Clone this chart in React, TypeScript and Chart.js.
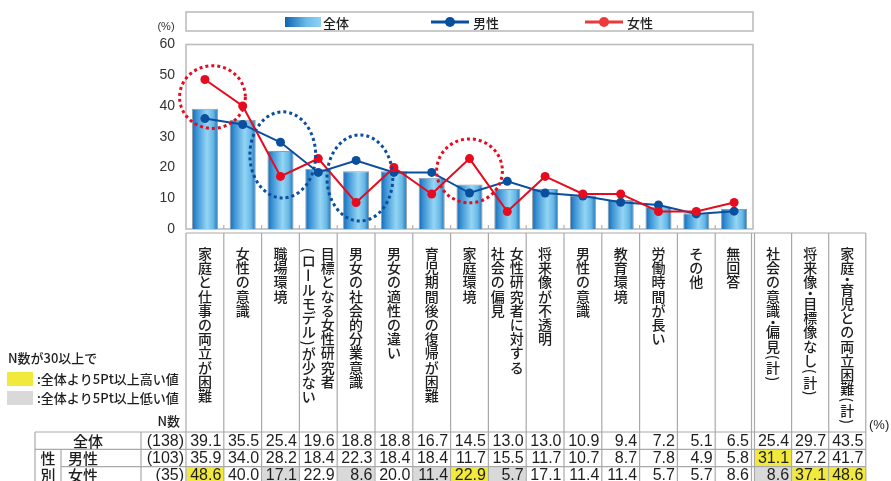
import { useEffect, useRef } from 'react';
import { Chart, registerables } from 'chart.js';

Chart.register(...registerables);

const JP = '"Noto Sans CJK JP", "Noto Sans", sans-serif';
const NUM = '"Liberation Sans", Arial, sans-serif';

// ---- data ----
const CATEGORIES: (string | string[])[] = [
  '家庭と仕事の両立が困難',
  '女性の意識',
  '職場環境',
  ['目標となる女性研究者', '（ロールモデル）が少ない'],
  '男女の社会的分業意識',
  '男女の適性の違い',
  '育児期間後の復帰が困難',
  '家庭環境',
  ['女性研究者に対する', '社会の偏見'],
  '将来像が不透明',
  '男性の意識',
  '教育環境',
  '労働時間が長い',
  'その他',
  '無回答',
];
const EXTRA_CATEGORIES = ['社会の意識・偏見（計）', '将来像・目標像なし（計）', '家庭・育児との両立困難（計）'];

const OVERALL = [39.1, 35.5, 25.4, 19.6, 18.8, 18.8, 16.7, 14.5, 13.0, 13.0, 10.9, 9.4, 7.2, 5.1, 6.5];
const MALE = [35.9, 34.0, 28.2, 18.4, 22.3, 18.4, 18.4, 11.7, 15.5, 11.7, 10.7, 8.7, 7.8, 4.9, 5.8];
const FEMALE = [48.6, 40.0, 17.1, 22.9, 8.6, 20.0, 11.4, 22.9, 5.7, 17.1, 11.4, 11.4, 5.7, 5.7, 8.6];
const OVERALL_EXTRA = [25.4, 29.7, 43.5];
const MALE_EXTRA = [31.1, 27.2, 41.7];
const FEMALE_EXTRA = [8.6, 37.1, 48.6];

const ROW_LABELS = ['全体', '男性', '女性'];
const N_COUNTS = [138, 103, 35];
const SERIES_LABELS = ['全体', '男性', '女性'];

const Y_MIN = 0;
const Y_MAX = 60;
const Y_STEP = 10;

// dotted highlight ellipses (data space: category index, value; radii in categories / value units)
const CIRCLE_SERIES = ['女性', '男性', '男性', '女性'];
const CIRCLE_INDEX = [0.2, 2.06, 4.1, 7.0];
const CIRCLE_VALUE = [42.9, 24.1, 16.6, 18.9];
const CIRCLE_RX = [0.87, 0.87, 0.87, 0.87];
const CIRCLE_RY = [10.2, 14, 14, 10.4];

const NOTE_TITLE = 'N数が30以上で';
const NOTE_HIGH = ':全体より5Pt以上高い値';
const NOTE_LOW = ':全体より5Pt以上低い値';

// ---- styles ----
const MALE_COLOR = '#0a4f9e';
const FEMALE_COLOR = '#e60b1f';
const LINE_GRAY = '#a9a9a9';
const YELLOW = '#f1ea3c';
const GRAY_FILL = '#d9d9d9';
const TEXT = '#1e1e1e';

function barGradient(ctx: CanvasRenderingContext2D, x0: number, x1: number) {
  const g = ctx.createLinearGradient(x0, 0, x1, 0);
  g.addColorStop(0, '#1667b1');
  g.addColorStop(0.18, '#3a92d4');
  g.addColorStop(0.58, '#94d5f4');
  g.addColorStop(0.82, '#66b7e6');
  g.addColorStop(1, '#1c70b8');
  return g;
}

function drawVertical(ctx: CanvasRenderingContext2D, text: string, cx: number, top: number) {
  let y = top;
  for (const ch0 of text) {
    const half = '（）()・'.includes(ch0);
    const adv = half ? 7.5 : 14.2;
    let ch = ch0;
    if (ch === '（') ch = '(';
    if (ch === '）') ch = ')';
    const cy = y + adv / 2;
    ctx.save();
    ctx.translate(cx, cy);
    if ('()ー'.includes(ch)) ctx.rotate(Math.PI / 2);
    ctx.fillText(ch, 0, 0);
    ctx.restore();
    y += adv;
  }
}

const decorPlugin = {
  id: 'decor',
  beforeDatasetsDraw(chart: any) {
    const { ctx, chartArea } = chart;
    const { left, right, top, bottom } = chartArea;
    const colW = (right - left) / CATEGORIES.length;
    ctx.save();
    ctx.strokeStyle = '#bdbdbd';
    ctx.lineWidth = 1.6;
    ctx.strokeRect(left, top, right - left, bottom - top);
    ctx.strokeStyle = '#b0b0b0';
    ctx.lineWidth = 1.2;
    for (let k = 1; k < CATEGORIES.length; k++) {
      const x = left + k * colW;
      ctx.beginPath();
      ctx.moveTo(x, bottom - 4);
      ctx.lineTo(x, bottom);
      ctx.stroke();
    }
    ctx.restore();
  },
  afterDatasetsDraw(chart: any) {
    const { ctx } = chart;
    const xs = chart.scales.x;
    const ys = chart.scales.y;
    const colW = xs.width / CATEGORIES.length;
    const pxPerUnit = (ys.bottom - ys.top) / (Y_MAX - Y_MIN);
    ctx.save();
    ctx.lineWidth = 3;
    ctx.setLineDash([3, 3]);
    for (let i = 0; i < CIRCLE_INDEX.length; i++) {
      const cx = xs.getPixelForValue(0) + CIRCLE_INDEX[i] * colW;
      const cy = ys.getPixelForValue(CIRCLE_VALUE[i]);
      ctx.strokeStyle = CIRCLE_SERIES[i] === '女性' ? FEMALE_COLOR : MALE_COLOR;
      ctx.beginPath();
      ctx.ellipse(cx, cy, CIRCLE_RX[i] * colW, CIRCLE_RY[i] * pxPerUnit, 0, 0, Math.PI * 2);
      ctx.stroke();
    }
    ctx.restore();
  },
  afterDraw(chart: any) {
    const { ctx, chartArea } = chart;
    const { left, right } = chartArea;
    const n = CATEGORIES.length;
    const colW = (right - left) / n;
    ctx.save();

    // ---- legend ----
    ctx.strokeStyle = '#bdbdbd';
    ctx.lineWidth = 1.6;
    ctx.strokeRect(left, 12, right - left, 19);
    const legY = 22;
    const ds = chart.data.datasets;
    const sg = ctx.createLinearGradient(285, 0, 321, 0);
    sg.addColorStop(0, '#0f63ae');
    sg.addColorStop(0.6, '#6cbbe8');
    sg.addColorStop(1, '#90d2f3');
    ctx.fillStyle = sg;
    ctx.fillRect(285, 17, 36, 10);
    ctx.font = `500 13px ${JP}`;
    ctx.textBaseline = 'middle';
    ctx.textAlign = 'left';
    ctx.fillStyle = TEXT;
    ctx.fillText(ds[0].label, 323, legY + 1);
    const lineItems = [
      { x0: 431, x1: 469, color: MALE_COLOR, label: ds[1].label, tx: 473 },
      { x0: 585, x1: 623, color: '#ec3a3a', label: ds[2].label, tx: 627 },
    ];
    for (const it of lineItems) {
      ctx.strokeStyle = it.color;
      ctx.lineWidth = 3;
      ctx.beginPath();
      ctx.moveTo(it.x0, legY);
      ctx.lineTo(it.x1, legY);
      ctx.stroke();
      ctx.fillStyle = it.color;
      ctx.beginPath();
      ctx.arc((it.x0 + it.x1) / 2, legY, 5, 0, Math.PI * 2);
      ctx.fill();
      ctx.fillStyle = TEXT;
      ctx.fillText(it.label, it.tx, legY + 1);
    }

    ctx.font = `11px ${NUM}`;
    ctx.textAlign = 'center';
    ctx.fillStyle = '#333';
    ctx.fillText('(%)', 166, 27);

    // ---- table ----
    const tableTop = 233;
    const rowTops = [432, 449.3, 466.6];
    const rowH = 17.3;
    const canvasBottom = chart.height + 2;
    const edges: number[] = [];
    for (let k = 0; k <= n; k++) edges.push(left + k * colW);
    const exStart = right + 1.5;
    const exW = 37.1;
    const exEdges: number[] = [];
    for (let j = 0; j <= EXTRA_CATEGORIES.length; j++) exEdges.push(exStart + j * exW);
    const tableRight = exEdges[exEdges.length - 1];

    const cellRects: { x0: number; x1: number }[] = [];
    for (let k = 0; k < n; k++) cellRects.push({ x0: edges[k], x1: edges[k + 1] - (k === n - 1 ? 1.5 : 0) });
    for (let j = 0; j < EXTRA_CATEGORIES.length; j++) cellRects.push({ x0: exEdges[j], x1: exEdges[j + 1] });

    const allOverall = [...OVERALL, ...OVERALL_EXTRA];
    const rowsVals = [allOverall, [...MALE, ...MALE_EXTRA], [...FEMALE, ...FEMALE_EXTRA]];

    for (let r = 1; r < 3; r++) {
      if (N_COUNTS[r] < 30) continue;
      rowsVals[r].forEach((v, c) => {
        const d = Math.round((v - allOverall[c]) * 10) / 10;
        let fill = '';
        if (d >= 5) fill = YELLOW;
        else if (d <= -5) fill = GRAY_FILL;
        if (!fill) return;
        ctx.fillStyle = fill;
        const rc = cellRects[c];
        ctx.fillRect(rc.x0 + 0.6, rowTops[r] + 0.6, rc.x1 - rc.x0 - 1.2, rowH - 1.2);
      });
    }

    ctx.strokeStyle = LINE_GRAY;
    ctx.lineWidth = 1.2;
    const hline = (x0: number, x1: number, y: number) => {
      ctx.beginPath();
      ctx.moveTo(x0, y);
      ctx.lineTo(x1, y);
      ctx.stroke();
    };
    const vline = (x: number, y0: number, y1: number) => {
      ctx.beginPath();
      ctx.moveTo(x, y0);
      ctx.lineTo(x, y1);
      ctx.stroke();
    };
    hline(left, tableRight, tableTop);
    hline(35, tableRight, rowTops[0]);
    hline(35, tableRight, rowTops[1]);
    hline(61, tableRight, rowTops[2]);
    for (let k = 0; k < n; k++) vline(edges[k], tableTop, canvasBottom);
    vline(right - 1.5, tableTop, canvasBottom);
    vline(right + 1.5, tableTop, canvasBottom);
    for (let j = 1; j < exEdges.length; j++) vline(exEdges[j], tableTop, canvasBottom);
    vline(35, rowTops[0], canvasBottom);
    vline(141, rowTops[0], canvasBottom);
    vline(61, rowTops[1], canvasBottom);

    ctx.fillStyle = TEXT;
    ctx.font = `500 14px ${JP}`;
    ctx.textAlign = 'center';
    ctx.textBaseline = 'middle';
    const labelTop = 246.5;
    const allLabels: (string | string[])[] = [...CATEGORIES, ...EXTRA_CATEGORIES];
    allLabels.forEach((lab, c) => {
      const rc = cellRects[c];
      const cx = (rc.x0 + rc.x1) / 2;
      if (Array.isArray(lab)) {
        drawVertical(ctx, lab[0], cx + 9.5, labelTop);
        drawVertical(ctx, lab[1], cx - 9.5, labelTop);
      } else {
        drawVertical(ctx, lab, cx, labelTop);
      }
    });

    ctx.font = `16px ${NUM}`;
    ctx.textAlign = 'right';
    ctx.fillStyle = TEXT;
    rowsVals.forEach((vals, r) => {
      const cy = rowTops[r] + rowH / 2 + 0.8;
      vals.forEach((v, c) => {
        ctx.fillText(v.toFixed(1), cellRects[c].x1 - 2.5, cy);
      });
      ctx.fillText(`(${N_COUNTS[r]})`, left - 2, cy);
    });

    ctx.font = `500 15px ${JP}`;
    ctx.textAlign = 'center';
    ctx.fillText(ROW_LABELS[0], 88, rowTops[0] + rowH / 2 + 0.5);
    ctx.textAlign = 'left';
    ctx.fillText(ROW_LABELS[1], 68, rowTops[1] + rowH / 2 + 0.5);
    ctx.fillText(ROW_LABELS[2], 68, rowTops[2] + rowH / 2 + 0.5);
    ctx.textAlign = 'center';
    ctx.fillText('性', 48, rowTops[1] + rowH / 2 + 0.5);
    ctx.fillText('別', 48, rowTops[2] + rowH / 2 + 0.5);

    ctx.font = `500 13px ${JP}`;
    ctx.textAlign = 'right';
    ctx.fillText('N数', 180, 421);
    ctx.textAlign = 'left';
    ctx.fillText(NOTE_TITLE, 8, 358);
    ctx.fillStyle = YELLOW;
    ctx.fillRect(7, 372, 26, 14);
    ctx.fillStyle = GRAY_FILL;
    ctx.fillRect(7, 391, 26, 14);
    ctx.fillStyle = TEXT;
    ctx.fillText(NOTE_HIGH, 37, 379);
    ctx.fillText(NOTE_LOW, 37, 398);

    ctx.font = `13px ${NUM}`;
    ctx.fillText('(%)', 869, 425);

    ctx.restore();
  },
};

export default function App() {
  const ref = useRef<HTMLCanvasElement | null>(null);
  useEffect(() => {
    document.body.style.margin = '0';
    document.body.style.overflow = 'hidden';
    const canvas = ref.current;
    if (!canvas) return;
    const chart = new Chart(canvas, {
      type: 'bar',
      data: {
        labels: CATEGORIES as any,
        datasets: [
          {
            type: 'bar',
            label: SERIES_LABELS[0],
            data: OVERALL,
            order: 3,
            backgroundColor: (c: any) => {
              const ch = c.chart;
              const xs = ch.scales && ch.scales.x;
              if (!xs || c.type !== 'data') return '#5aaee2';
              const cx = xs.getPixelForValue(c.dataIndex);
              const w = (xs.width / CATEGORIES.length) * 0.69;
              if (!Number.isFinite(cx) || !Number.isFinite(w) || w <= 0) return '#5aaee2';
              return barGradient(ch.ctx, cx - w / 2, cx + w / 2);
            },
            borderColor: '#8e9ca6',
            borderWidth: 1,
            barPercentage: 0.69,
            categoryPercentage: 1,
          } as any,
          {
            type: 'line',
            label: SERIES_LABELS[1],
            data: MALE,
            order: 2,
            borderColor: MALE_COLOR,
            backgroundColor: MALE_COLOR,
            borderWidth: 2,
            pointRadius: 4.5,
            pointBorderWidth: 0,
            pointBackgroundColor: MALE_COLOR,
            tension: 0,
          } as any,
          {
            type: 'line',
            label: SERIES_LABELS[2],
            data: FEMALE,
            order: 1,
            borderColor: FEMALE_COLOR,
            backgroundColor: FEMALE_COLOR,
            borderWidth: 2,
            pointRadius: 4.5,
            pointBorderWidth: 0,
            pointBackgroundColor: FEMALE_COLOR,
            tension: 0,
          } as any,
        ],
      },
      options: {
        responsive: false,
        maintainAspectRatio: false,
        animation: false,
        devicePixelRatio: 1,
        layout: { padding: { top: 44.5, bottom: 252, right: 138, left: 0 } },
        plugins: {
          legend: { display: false },
          tooltip: { enabled: false },
          title: { display: false },
        },
        scales: {
          x: { display: false, offset: true },
          y: {
            min: Y_MIN,
            max: Y_MAX,
            ticks: {
              stepSize: Y_STEP,
              padding: 11,
              color: '#333',
              font: { family: '"Liberation Sans", Arial, sans-serif', size: 14 },
            },
            grid: { display: false, drawTicks: false },
            border: { display: false },
            afterFit: (scale: any) => {
              scale.width = 186;
            },
          },
        },
      } as any,
      plugins: [decorPlugin],
    });
    return () => chart.destroy();
  }, []);
  return (
    <div style={{ width: 891, height: 481, position: 'relative', overflow: 'hidden' }}>
      <canvas ref={ref} width={891} height={481} style={{ display: 'block' }} />
    </div>
  );
}
